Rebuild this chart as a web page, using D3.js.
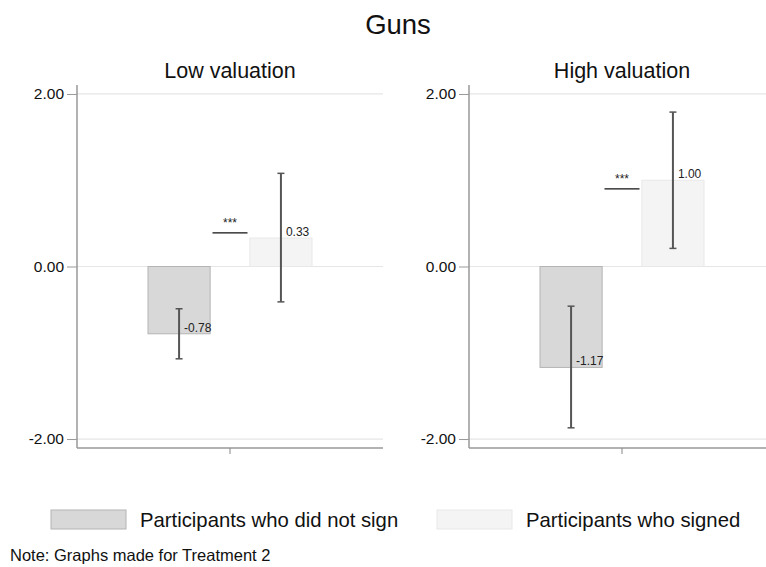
<!DOCTYPE html>
<html><head><meta charset="utf-8">
<script src="https://cdn.jsdelivr.net/npm/d3@7"></script>
<style>body{margin:0;background:#fff}svg{display:block}text{font-family:Arial,"Liberation Sans",sans-serif}</style>
</head><body><svg id="c" width="766" height="567"></svg>
<script>
const panels = ["Low valuation", "High valuation"];
const groups = ["Participants who did not sign", "Participants who signed"];
const means = [[-0.78, 0.33], [-1.17, 1.00]];
const ciLow = [[-1.07, -0.41], [-1.87, 0.21]];
const ciHigh = [[-0.49, 1.08], [-0.46, 1.79]];
const sigY = [0.39, 0.90];
const sigText = ["***", "***"];
const yTicks = [-2, 0, 2];
const colors = ["#d8d8d8", "#f4f4f4"];
const strokes = ["#b4b4b4", "#e8e8e8"];

const fmt = v => d3.format(".2f")(v).replace("\u2212", "-");

const svg = d3.select("#c");
svg.append("text").attr("x", 398).attr("y", 34).attr("text-anchor", "middle")
  .attr("font-size", 27.5).attr("fill", "#111").text("Guns");

const panelLeft = [77, 469];
const pw = 306;
const y = d3.scaleLinear().domain([-2.104, 2.104]).range([448, 85]);

panels.forEach((p, i) => {
  const x0 = panelLeft[i], x1 = x0 + pw, cx = x0 + pw / 2;
  const g = svg.append("g");
  g.append("text").attr("x", cx).attr("y", 78).attr("text-anchor", "middle")
    .attr("font-size", 21.5).attr("fill", "#111").text(p);
  g.selectAll(".grid").data(yTicks).join("line")
    .attr("x1", x0).attr("x2", x1).attr("y1", d => y(d)).attr("y2", d => y(d))
    .attr("stroke", "#e6e6e6").attr("stroke-width", 1.2);
  const ax = g.append("g").attr("transform", `translate(${x0},0)`)
    .call(d3.axisLeft(y).tickValues(yTicks).tickFormat(fmt).tickSize(10).tickPadding(3));
  ax.select(".domain").remove();
  ax.selectAll(".tick line").attr("stroke", "#999");
  ax.selectAll(".tick text").attr("font-size", 15.5).attr("fill", "#111")
    .attr("font-family", "Arial, 'Liberation Sans', sans-serif");
  g.append("line").attr("x1", x0).attr("x2", x0).attr("y1", 85).attr("y2", 448)
    .attr("stroke", "#999").attr("stroke-width", 1.5);
  g.append("line").attr("x1", x0).attr("x2", x1).attr("y1", 448).attr("y2", 448)
    .attr("stroke", "#999").attr("stroke-width", 1.5);
  g.append("line").attr("x1", cx).attr("x2", cx).attr("y1", 448).attr("y2", 454)
    .attr("stroke", "#888");

  const x = d3.scaleBand().domain(groups).range([cx - 82, cx + 82]).paddingInner(0.39);
  const rows = groups.map((gname, j) => ({ g: gname, j, v: means[i][j], lo: ciLow[i][j], hi: ciHigh[i][j] }));
  g.selectAll(".bar").data(rows).join("rect")
    .attr("x", d => x(d.g)).attr("width", x.bandwidth())
    .attr("y", d => y(Math.max(0, d.v))).attr("height", d => Math.abs(y(d.v) - y(0)))
    .attr("fill", d => colors[d.j]).attr("stroke", d => strokes[d.j]).attr("stroke-width", 1);
  const eb = g.selectAll(".eb").data(rows).join("g");
  const xc = d => x(d.g) + x.bandwidth() / 2;
  eb.append("line").attr("x1", xc).attr("x2", xc).attr("y1", d => y(d.lo)).attr("y2", d => y(d.hi))
    .attr("stroke", "#555").attr("stroke-width", 2);
  eb.append("line").attr("x1", d => xc(d) - 3.5).attr("x2", d => xc(d) + 3.5).attr("y1", d => y(d.lo)).attr("y2", d => y(d.lo))
    .attr("stroke", "#555").attr("stroke-width", 1.5);
  eb.append("line").attr("x1", d => xc(d) - 3.5).attr("x2", d => xc(d) + 3.5).attr("y1", d => y(d.hi)).attr("y2", d => y(d.hi))
    .attr("stroke", "#555").attr("stroke-width", 1.5);
  eb.append("text").attr("x", d => xc(d) + 5).attr("y", d => y(d.v) - 2)
    .attr("font-size", 12).attr("fill", "#222").text(d => fmt(d.v));
  g.append("line").attr("x1", cx - 17.5).attr("x2", cx + 17.5).attr("y1", y(sigY[i])).attr("y2", y(sigY[i]))
    .attr("stroke", "#111").attr("stroke-width", 1.3);
  g.append("text").attr("x", cx).attr("y", y(sigY[i]) - 6).attr("text-anchor", "middle")
    .attr("font-size", 12).attr("fill", "#222").text(sigText[i]);
});

const legX = [51, 437];
groups.forEach((gname, j) => {
  svg.append("rect").attr("x", legX[j]).attr("y", 510).attr("width", 75).attr("height", 19)
    .attr("fill", colors[j]).attr("stroke", strokes[j]);
  svg.append("text").attr("x", legX[j] + 89).attr("y", 527).attr("font-size", 20.3).attr("fill", "#111").text(gname);
});
svg.append("text").attr("x", 10).attr("y", 561).attr("font-size", 16.5).attr("fill", "#111")
  .text("Note: Graphs made for Treatment 2");
</script></body></html>
